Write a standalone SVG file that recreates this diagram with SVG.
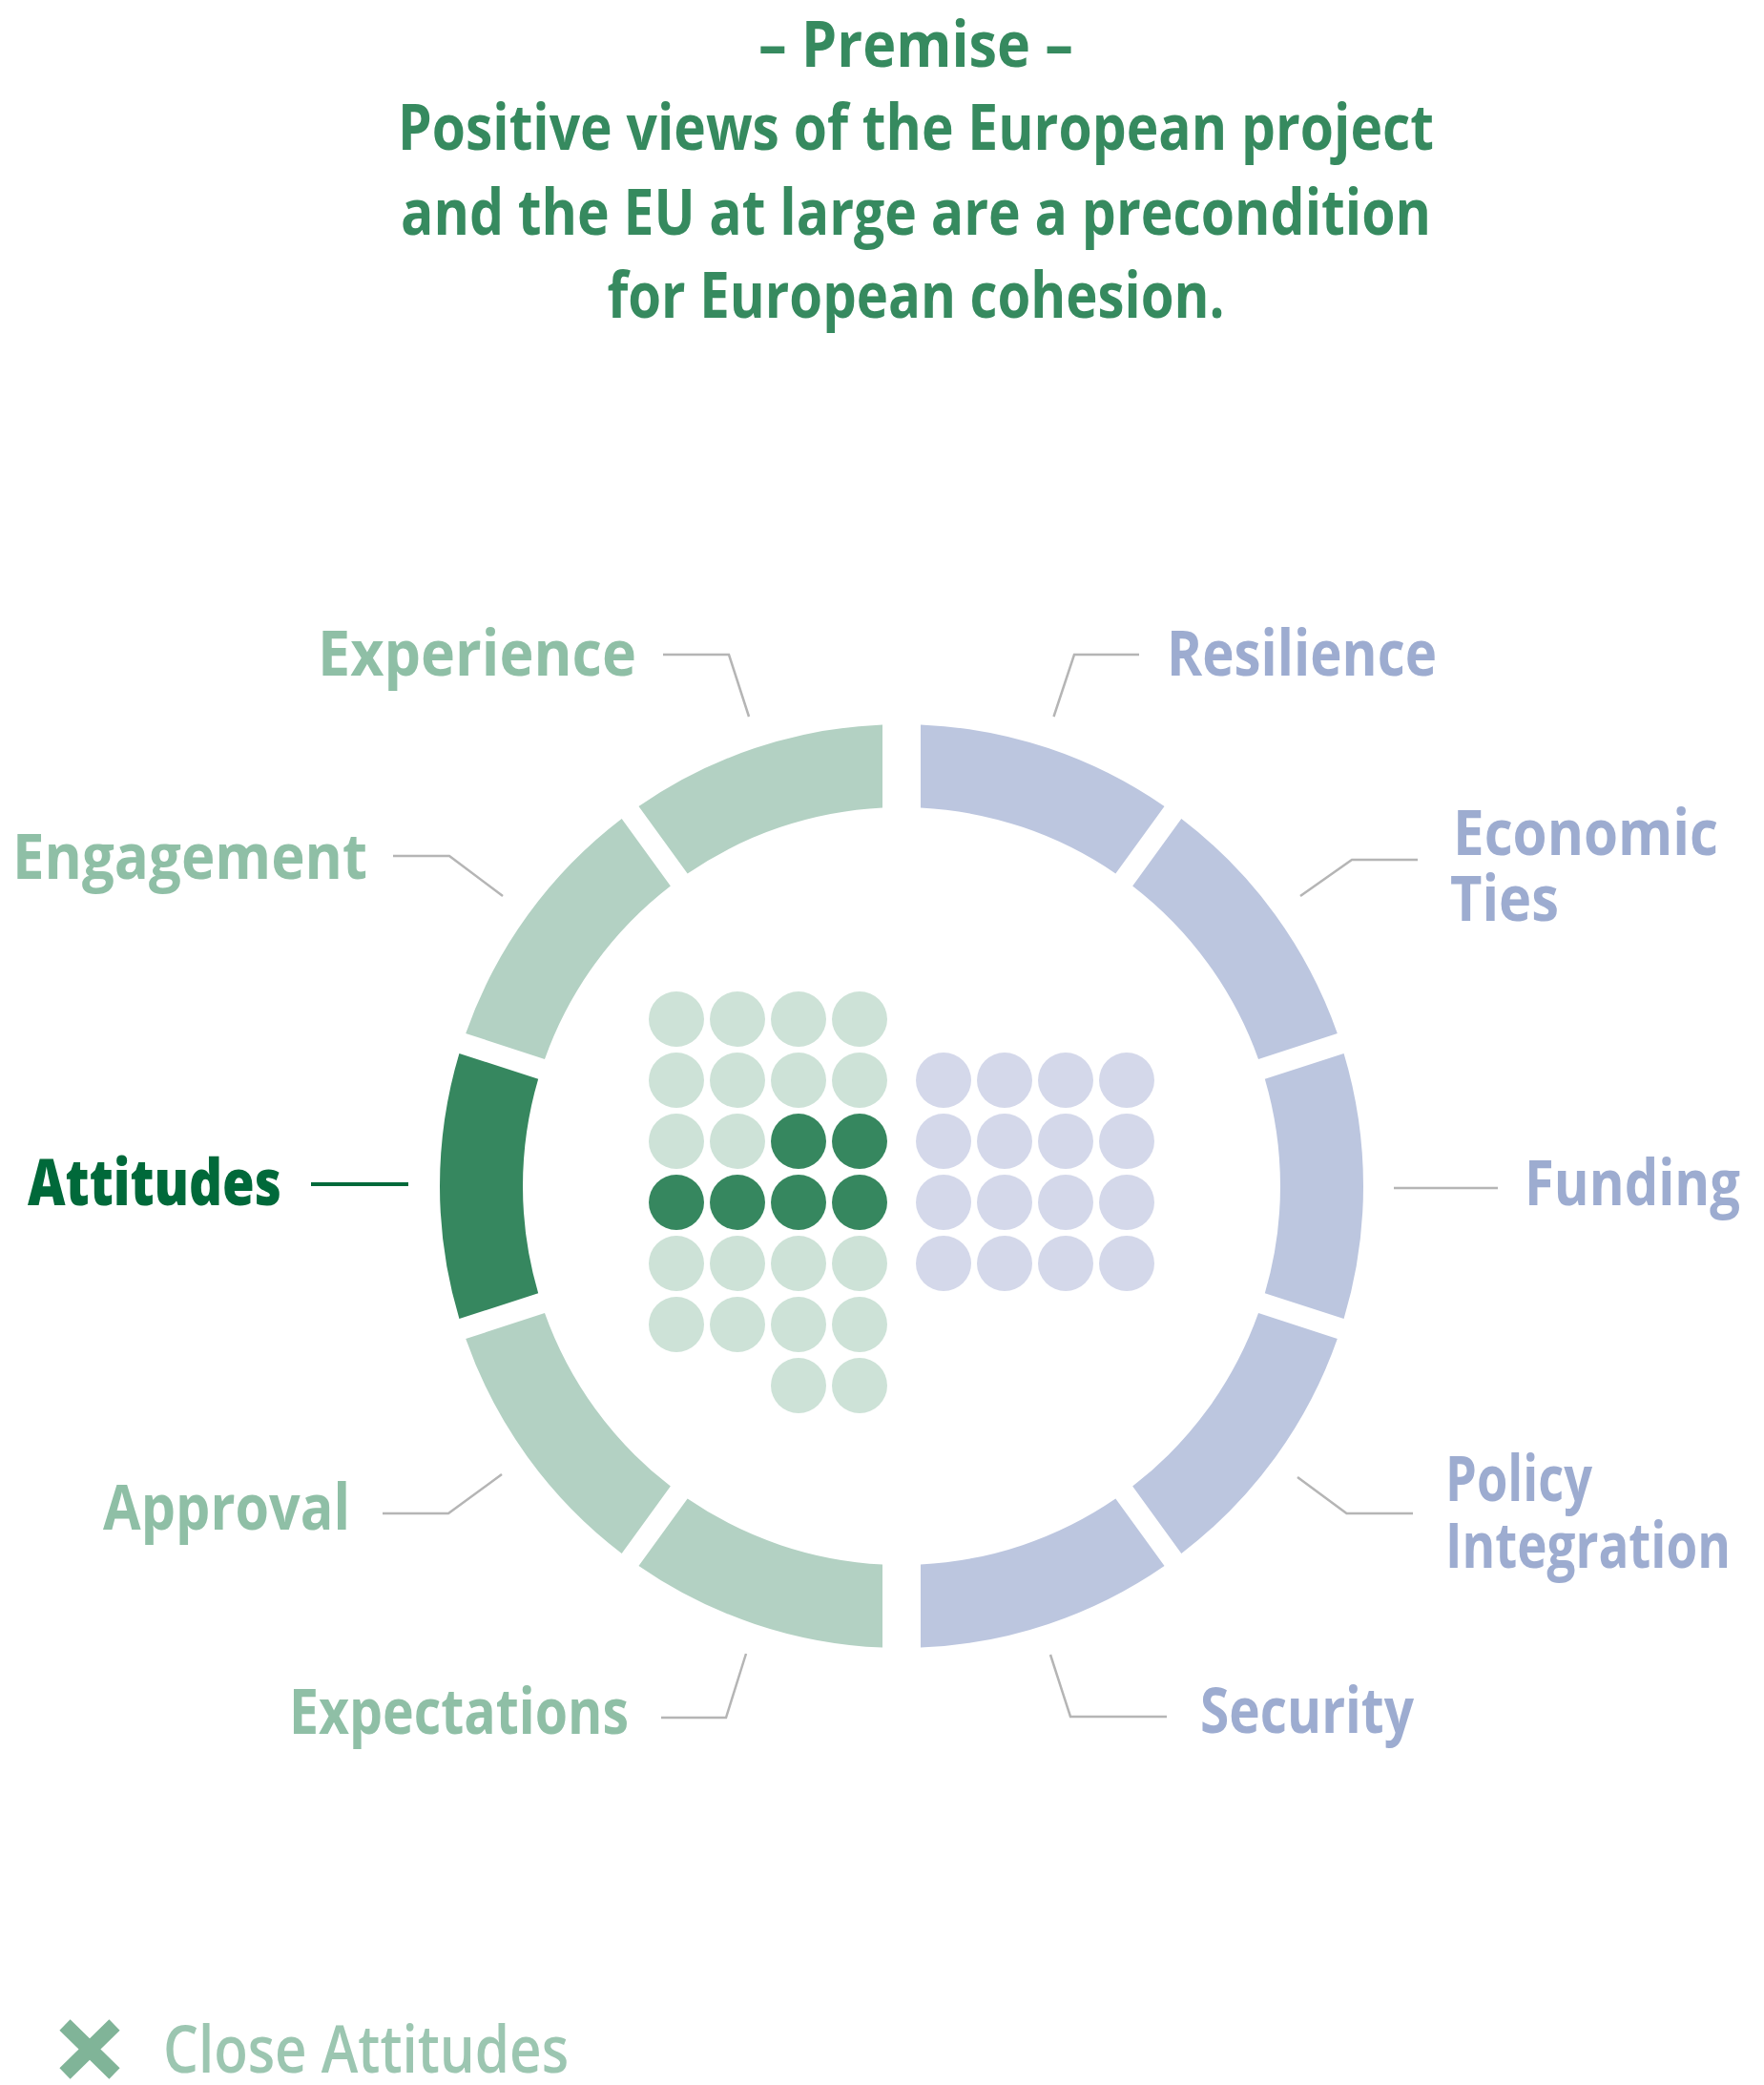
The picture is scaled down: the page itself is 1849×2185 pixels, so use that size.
<svg xmlns="http://www.w3.org/2000/svg" width="1849" height="2185" viewBox="0 0 1849 2185">
<style>
.title{font-family:"Open Sans","Liberation Sans",sans-serif;font-weight:700;font-size:66px;fill:#368a5f}
.lbl{font-family:"Open Sans","Liberation Sans",sans-serif;font-weight:700;font-size:67px}
.g{fill:#8fbfa6}
.b{fill:#9dacd0}
.att{fill:#00693a;font-weight:800}
.segG{fill:#b3d1c3}
.segB{fill:#bcc6df}
.segD{fill:#36875f}
.dG{fill:#cde2d7}
.dD{fill:#36875f}
.dB{fill:#d4d8ea}
.lead{fill:none;stroke:#b5b5b5;stroke-width:2.5}
.legend{font-family:"Open Sans","Liberation Sans",sans-serif;font-weight:600;font-size:68px;fill:#9cc6b1}
</style>

<g id="title">
<text class="title" x="960" y="70" text-anchor="middle" textLength="330" lengthAdjust="spacingAndGlyphs">– Premise –</text>
<text class="title" x="960" y="157" text-anchor="middle" textLength="1086" lengthAdjust="spacingAndGlyphs">Positive views of the European project</text>
<text class="title" x="960" y="246" text-anchor="middle" textLength="1080" lengthAdjust="spacingAndGlyphs">and the EU at large are a precondition</text>
<text class="title" x="960" y="333" text-anchor="middle" textLength="647" lengthAdjust="spacingAndGlyphs">for European cohesion.</text>
</g>

<g id="ring">
<path id="seg-resilience" class="segB" d="M965,759.41 A484,484 0 0 1 1220.52,845.07 L1169.36,915.48 A397,397 0 0 0 965,846.50 Z"/>
<path id="seg-economic" class="segB" d="M1238.31,858.00 A484,484 0 0 1 1401.79,1083.02 L1319.03,1109.91 A397,397 0 0 0 1187.16,928.41 Z"/>
<path id="seg-funding" class="segB" d="M1408.59,1103.93 A484,484 0 0 1 1408.59,1382.07 L1325.82,1355.17 A397,397 0 0 0 1325.82,1130.83 Z"/>
<path id="seg-policy" class="segB" d="M1401.79,1402.99 A484,484 0 0 1 1238.31,1628.00 L1187.16,1557.59 A397,397 0 0 0 1319.03,1376.10 Z"/>
<path id="seg-security" class="segB" d="M1220.52,1640.93 A484,484 0 0 1 965,1726.59 L965,1639.50 A397,397 0 0 0 1169.36,1570.52 Z"/>
<path id="seg-expectations" class="segG" d="M925,1726.59 A484,484 0 0 1 669.48,1640.93 L720.64,1570.52 A397,397 0 0 0 925,1639.50 Z"/>
<path id="seg-approval" class="segG" d="M651.69,1628.00 A484,484 0 0 1 488.21,1402.99 L570.98,1376.10 A397,397 0 0 0 702.84,1557.59 Z"/>
<path id="seg-attitudes" class="segD" d="M481.41,1382.07 A484,484 0 0 1 481.41,1103.93 L564.18,1130.83 A397,397 0 0 0 564.18,1355.17 Z"/>
<path id="seg-engagement" class="segG" d="M488.21,1083.02 A484,484 0 0 1 651.69,858.00 L702.84,928.41 A397,397 0 0 0 570.98,1109.91 Z"/>
<path id="seg-experience" class="segG" d="M669.48,845.07 A484,484 0 0 1 925,759.41 L925,846.50 A397,397 0 0 0 720.64,915.48 Z"/>
</g>

<g id="dots-green">
<circle class="dG" cx="709" cy="1068" r="29"/><circle class="dG" cx="773" cy="1068" r="29"/><circle class="dG" cx="837" cy="1068" r="29"/><circle class="dG" cx="901" cy="1068" r="29"/>
<circle class="dG" cx="709" cy="1132" r="29"/><circle class="dG" cx="773" cy="1132" r="29"/><circle class="dG" cx="837" cy="1132" r="29"/><circle class="dG" cx="901" cy="1132" r="29"/>
<circle class="dG" cx="709" cy="1196" r="29"/><circle class="dG" cx="773" cy="1196" r="29"/><circle class="dD" cx="837" cy="1196" r="29"/><circle class="dD" cx="901" cy="1196" r="29"/>
<circle class="dD" cx="709" cy="1260" r="29"/><circle class="dD" cx="773" cy="1260" r="29"/><circle class="dD" cx="837" cy="1260" r="29"/><circle class="dD" cx="901" cy="1260" r="29"/>
<circle class="dG" cx="709" cy="1324" r="29"/><circle class="dG" cx="773" cy="1324" r="29"/><circle class="dG" cx="837" cy="1324" r="29"/><circle class="dG" cx="901" cy="1324" r="29"/>
<circle class="dG" cx="709" cy="1388" r="29"/><circle class="dG" cx="773" cy="1388" r="29"/><circle class="dG" cx="837" cy="1388" r="29"/><circle class="dG" cx="901" cy="1388" r="29"/>
<circle class="dG" cx="837" cy="1452" r="29"/><circle class="dG" cx="901" cy="1452" r="29"/>
</g>

<g id="dots-blue">
<circle class="dB" cx="989" cy="1132" r="29"/><circle class="dB" cx="1053" cy="1132" r="29"/><circle class="dB" cx="1117" cy="1132" r="29"/><circle class="dB" cx="1181" cy="1132" r="29"/>
<circle class="dB" cx="989" cy="1196" r="29"/><circle class="dB" cx="1053" cy="1196" r="29"/><circle class="dB" cx="1117" cy="1196" r="29"/><circle class="dB" cx="1181" cy="1196" r="29"/>
<circle class="dB" cx="989" cy="1260" r="29"/><circle class="dB" cx="1053" cy="1260" r="29"/><circle class="dB" cx="1117" cy="1260" r="29"/><circle class="dB" cx="1181" cy="1260" r="29"/>
<circle class="dB" cx="989" cy="1324" r="29"/><circle class="dB" cx="1053" cy="1324" r="29"/><circle class="dB" cx="1117" cy="1324" r="29"/><circle class="dB" cx="1181" cy="1324" r="29"/>
</g>

<g id="connectors">
<polyline class="lead" points="695,686 764,686 785,751"/>
<polyline class="lead" points="412,897 471,897 527,939"/>
<line x1="326" y1="1241" x2="428" y2="1241" stroke="#00693a" stroke-width="4"/>
<polyline class="lead" points="401,1586 470,1586 526,1545"/>
<polyline class="lead" points="693,1800 761,1800 782,1733"/>
<polyline class="lead" points="1194,686 1126,686 1104.5,751"/>
<polyline class="lead" points="1486,901 1417,901 1363,939"/>
<polyline class="lead" points="1461,1245 1570,1245"/>
<polyline class="lead" points="1481,1586 1411.5,1586 1360,1548"/>
<polyline class="lead" points="1223,1799 1122,1799 1101,1734"/>
</g>

<g id="label-experience"><text class="lbl g" x="333" y="707.5" textLength="334" lengthAdjust="spacingAndGlyphs">Experience</text></g>
<g id="label-engagement"><text class="lbl g" x="13" y="921" textLength="372" lengthAdjust="spacingAndGlyphs">Engagement</text></g>
<g id="label-attitudes"><text class="lbl att" x="29" y="1263" textLength="266" lengthAdjust="spacingAndGlyphs">Attitudes</text></g>
<g id="label-approval"><text class="lbl g" x="108" y="1603" textLength="259" lengthAdjust="spacingAndGlyphs">Approval</text></g>
<g id="label-expectations"><text class="lbl g" x="303" y="1817" textLength="356" lengthAdjust="spacingAndGlyphs">Expectations</text></g>
<g id="label-resilience"><text class="lbl b" x="1223" y="708" textLength="283" lengthAdjust="spacingAndGlyphs">Resilience</text></g>
<g id="label-economic">
<text class="lbl b" x="1523" y="896" textLength="278" lengthAdjust="spacingAndGlyphs">Economic</text>
<text class="lbl b" x="1520" y="965" textLength="114" lengthAdjust="spacingAndGlyphs">Ties</text>
</g>
<g id="label-funding"><text class="lbl b" x="1598" y="1263" textLength="226" lengthAdjust="spacingAndGlyphs">Funding</text></g>
<g id="label-policy">
<text class="lbl b" x="1515" y="1572.5" textLength="154" lengthAdjust="spacingAndGlyphs">Policy</text>
<text class="lbl b" x="1515" y="1642.5" textLength="299" lengthAdjust="spacingAndGlyphs">Integration</text>
</g>
<g id="label-security"><text class="lbl b" x="1258" y="1816" textLength="224" lengthAdjust="spacingAndGlyphs">Security</text></g>

<g id="legend">
<path d="M68,2122 L120,2173 M120,2122 L68,2173" stroke="#80b498" stroke-width="16" fill="none"/>
<text class="legend" x="171" y="2172" textLength="425" lengthAdjust="spacingAndGlyphs">Close Attitudes</text>
</g>
</svg>
